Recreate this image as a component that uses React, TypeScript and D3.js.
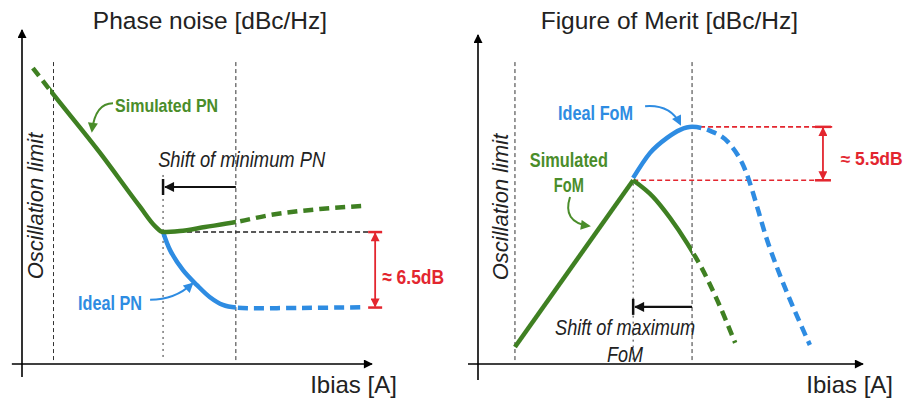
import React from 'react';
import * as d3 from 'd3';

// Conceptual units: Ibias on x (0-100), level on y (0-100)

// Phase noise panel
const pnSimulated = [[3.1, 88.6], [8, 82], [22.3, 63.2], [33.7, 47.1], [38, 41.3], [40.3, 39.5], [45.1, 39.8], [52.3, 41], [61.1, 42.5], [70.9, 44.6], [85.1, 46.4], [97.4, 47.3]];
const pnIdeal = [[40.3, 39.5], [42.3, 34.1], [46, 28.1], [50, 23.6], [53.7, 20], [57.4, 17.7], [61.1, 16.9], [80, 16.8], [97.4, 17]];
const pnSolidRange = [8, 61.1]; // outside this range the curves are dashed
const pnGuides = [9, 40.3, 61.1];
const pnGap = [39.5, 16.9]; // ≈ 6.5dB

// Figure of merit panel
const fomSimRise = [[9.6, 5.1], [40.3, 55]];
const fomSimFall = [[40.3, 55], [45.5, 50], [49.9, 43.7], [54.3, 36.2], [58.4, 28.1], [62.1, 19.2], [66.8, 6.3]];
const fomIdeal = [[40.3, 55.7], [44.7, 63.2], [49.1, 67.7], [52.5, 70.1], [55.6, 71], [60.3, 69.8], [64.9, 66.5], [68.6, 60.2], [75.8, 34.7], [86.2, 5.7]];
const fomSolidEnd = 55.6;
const fomGuides = [9.6, 40.3, 55.6];
const fomGap = [71, 55]; // ≈ 5.5dB

const GREEN = '#3f8022';
const GREEN_TXT = '#4a8d2a';
const BLUE = '#2e8ce2';
const RED = '#e3262f';
const SANS = "'Liberation Sans', Arial, sans-serif";

// condensed label: the source uses a narrow face, so squeeze to the measured width
const Narrow = ({ x, y, w, anchor = 'start', size, bold = false, italic = false, fill = '#222', children }: any) => (
  <text x={x} y={y} textAnchor={anchor} fontFamily={SANS} fontSize={size}
    fontWeight={bold ? 'bold' : 'normal'} fontStyle={italic ? 'italic' : 'normal'} fill={fill}
    textLength={w} lengthAdjust="spacingAndGlyphs">{children}</text>
);

export default function App() {
  const y = d3.scaleLinear().domain([0, 100]).range([364, 30]);
  const xL = d3.scaleLinear().domain([0, 100]).range([22, 372]);
  const xR = d3.scaleLinear().domain([0, 100]).range([478, 863]);

  const lineL = d3.line<number[]>().x(d => xL(d[0])).y(d => y(d[1])).curve(d3.curveMonotoneX);
  const lineLSmooth = d3.line<number[]>().x(d => xL(d[0])).y(d => y(d[1])).curve(d3.curveCatmullRom.alpha(0.5));
  const lineR = d3.line<number[]>().x(d => xR(d[0])).y(d => y(d[1])).curve(d3.curveMonotoneX);
  const lineRLin = d3.line<number[]>().x(d => xR(d[0])).y(d => y(d[1]));

  const curveW = 4.5;
  const dash = '10 6';

  return (
    <svg width={907} height={409} style={{ position: 'absolute', left: 0, top: 0, background: '#fff' }}>
      <defs>
        <marker id="ax" viewBox="0 0 10 10" refX="9" refY="5" markerWidth="12" markerHeight="9" markerUnits="userSpaceOnUse" orient="auto">
          <path d="M0,0 L10,5 L0,10 z" fill="#000" />
        </marker>
        <marker id="blk" viewBox="0 0 10 10" refX="9" refY="5" markerWidth="12" markerHeight="10" markerUnits="userSpaceOnUse" orient="auto">
          <path d="M0,0 L10,5 L0,10 z" fill="#111" />
        </marker>
        <marker id="red" viewBox="0 0 10 10" refX="9" refY="5" markerWidth="11" markerHeight="9" markerUnits="userSpaceOnUse" orient="auto-start-reverse">
          <path d="M0,0 L10,5 L0,10 z" fill={RED} />
        </marker>
        <marker id="grn" viewBox="0 0 10 10" refX="8" refY="5" markerWidth="11" markerHeight="10" markerUnits="userSpaceOnUse" orient="auto">
          <path d="M0,0 L10,5 L0,10 z" fill={GREEN_TXT} />
        </marker>
        <marker id="blu" viewBox="0 0 10 10" refX="8" refY="5" markerWidth="11" markerHeight="10" markerUnits="userSpaceOnUse" orient="auto">
          <path d="M0,0 L10,5 L0,10 z" fill={BLUE} />
        </marker>
        <clipPath id="pnSolid">
          <rect x={xL(pnSolidRange[0])} y={0} width={xL(pnSolidRange[1]) - xL(pnSolidRange[0])} height={409} />
        </clipPath>
        <clipPath id="pnDashA">
          <rect x={0} y={0} width={xL(pnSolidRange[0])} height={409} />
        </clipPath>
        <clipPath id="pnDashB">
          <rect x={xL(pnSolidRange[1])} y={0} width={200} height={409} />
        </clipPath>
        <clipPath id="fomSolid">
          <rect x={455} y={0} width={xR(fomSolidEnd) - 455} height={409} />
        </clipPath>
        <clipPath id="fomDash">
          <rect x={xR(fomSolidEnd)} y={0} width={300} height={409} />
        </clipPath>
      </defs>

      {/* ---------- Phase noise ---------- */}
      <g>
        <text x={xL(53.7)} y={y(100.3)} textAnchor="middle" fontFamily={SANS} fontSize={24.5} fill="#222">Phase noise [dBc/Hz]</text>

        {pnGuides.map((g, i) => (
          <line key={i} x1={xL(g)} x2={xL(g)} y1={i === 1 ? y(56.6) : y(90.4)} y2={y(1)}
            stroke="#333" strokeWidth={1} strokeDasharray={i === 1 ? '2 4' : '4 3'} />
        ))}

        {/* axes */}
        <line x1={xL(0)} x2={xL(0)} y1={y(-3.9)} y2={y(100)} stroke="#000" strokeWidth={1.6} markerEnd="url(#ax)" />
        <line x1={xL(-2.9)} x2={xL(100)} y1={y(0)} y2={y(0)} stroke="#000" strokeWidth={1.6} markerEnd="url(#ax)" />
        <text x={xL(107.1)} y={y(-8.7)} textAnchor="end" fontFamily={SANS} fontSize={24} fill="#222">Ibias [A]</text>
        <text transform={`translate(${xL(6)},${y(47.3)}) rotate(-90)`} textAnchor="middle" fontFamily={SANS} fontStyle="italic" fontSize={22} fill="#222">Oscillation limit</text>

        {/* reference level */}
        <line x1={xL(40.3)} x2={xL(102.3)} y1={y(pnGap[0])} y2={y(pnGap[0])} stroke="#222" strokeWidth={1.5} strokeDasharray="5 3" />

        {/* curves */}
        <path d={lineLSmooth(pnIdeal) || ''} fill="none" stroke={BLUE} strokeWidth={curveW} clipPath="url(#pnSolid)" />
        <path d={lineLSmooth(pnIdeal) || ''} fill="none" stroke={BLUE} strokeWidth={curveW} strokeDasharray={dash} clipPath="url(#pnDashB)" />
        <path d={lineL(pnSimulated) || ''} fill="none" stroke={GREEN} strokeWidth={curveW} clipPath="url(#pnSolid)" />
        <path d={lineL(pnSimulated) || ''} fill="none" stroke={GREEN} strokeWidth={curveW} strokeDasharray={dash} clipPath="url(#pnDashA)" />
        <path d={lineL(pnSimulated) || ''} fill="none" stroke={GREEN} strokeWidth={curveW} strokeDasharray={dash} clipPath="url(#pnDashB)" />

        {/* ≈ 6.5dB */}
        <line x1={xL(100.9)} x2={xL(100.9)} y1={y(pnGap[0]) + 1} y2={y(pnGap[1]) - 1} stroke={RED} strokeWidth={1.8} markerStart="url(#red)" markerEnd="url(#red)" />
        <line x1={xL(100.9) - 7} x2={xL(100.9) + 7} y1={y(pnGap[0])} y2={y(pnGap[0])} stroke={RED} strokeWidth={2.5} />
        <line x1={xL(100.9) - 7} x2={xL(100.9) + 7} y1={y(pnGap[1])} y2={y(pnGap[1])} stroke={RED} strokeWidth={2.5} />
        <Narrow x={xL(102.9)} y={y(24)} w={62} size={21} bold fill={RED}>≈ 6.5dB</Narrow>

        {/* shift of minimum */}
        <Narrow x={xL(38.9)} y={y(59)} w={167} size={22} italic>Shift of minimum PN</Narrow>
        <line x1={xL(61.1)} x2={xL(40.3) + 2} y1={y(53)} y2={y(53)} stroke="#111" strokeWidth={2.2} markerEnd="url(#blk)" />
        <line x1={xL(40.3)} x2={xL(40.3)} y1={y(53) - 8} y2={y(53) + 8} stroke="#111" strokeWidth={2.5} />

        {/* labels */}
        <Narrow x={xL(26.6)} y={y(75.4)} w={103} size={19} bold fill={GREEN_TXT}>Simulated PN</Narrow>
        <path d={`M${xL(26)},${y(78.1)} Q${xL(20.9)},${y(78.1)} ${xL(20)},${y(69.8)}`} fill="none" stroke={GREEN_TXT} strokeWidth={2} markerEnd="url(#grn)" />
        <Narrow x={xL(16)} y={y(16.2)} w={64} size={19.5} bold fill={BLUE}>Ideal PN</Narrow>
        <path d={`M${xL(36.6)},${y(19.2)} Q${xL(43.7)},${y(19.2)} ${xL(48.6)},${y(24)}`} fill="none" stroke={BLUE} strokeWidth={2} markerEnd="url(#blu)" />
      </g>

      {/* ---------- Figure of merit ---------- */}
      <g>
        <text x={xR(49.7)} y={y(100.3)} textAnchor="middle" fontFamily={SANS} fontSize={24.5} fill="#222">Figure of Merit [dBc/Hz]</text>

        {fomGuides.map((g, i) => (
          <line key={i} x1={xR(g)} x2={xR(g)} y1={i === 1 ? y(54) : y(90.4)} y2={y(1)}
            stroke="#333" strokeWidth={1} strokeDasharray={i === 1 ? '2 4' : '4 3'} />
        ))}

        <line x1={xR(0)} x2={xR(0)} y1={y(-4.8)} y2={y(98.5)} stroke="#000" strokeWidth={1.6} markerEnd="url(#ax)" />
        <line x1={xR(-2.6)} x2={xR(100)} y1={y(0)} y2={y(0)} stroke="#000" strokeWidth={1.6} markerEnd="url(#ax)" />
        <text x={xR(107.8)} y={y(-8.7)} textAnchor="end" fontFamily={SANS} fontSize={24} fill="#222">Ibias [A]</text>
        <text transform={`translate(${xR(7.8)},${y(47)}) rotate(-90)`} textAnchor="middle" fontFamily={SANS} fontStyle="italic" fontSize={22} fill="#222">Oscillation limit</text>

        {/* reference levels */}
        <line x1={xR(55.6)} x2={xR(92)} y1={y(fomGap[0])} y2={y(fomGap[0])} stroke={RED} strokeWidth={1.6} strokeDasharray="5 3" />
        <line x1={xR(40.3)} x2={xR(92)} y1={y(fomGap[1])} y2={y(fomGap[1])} stroke={RED} strokeWidth={1.6} strokeDasharray="5 3" />

        {/* curves */}
        <path d={lineR(fomIdeal) || ''} fill="none" stroke={BLUE} strokeWidth={curveW} clipPath="url(#fomSolid)" />
        <path d={lineR(fomIdeal) || ''} fill="none" stroke={BLUE} strokeWidth={curveW} strokeDasharray={dash} clipPath="url(#fomDash)" />
        <path d={lineRLin(fomSimRise) || ''} fill="none" stroke={GREEN} strokeWidth={curveW} />
        <path d={lineR(fomSimFall) || ''} fill="none" stroke={GREEN} strokeWidth={curveW} clipPath="url(#fomSolid)" />
        <path d={lineR(fomSimFall) || ''} fill="none" stroke={GREEN} strokeWidth={curveW} strokeDasharray={dash} clipPath="url(#fomDash)" />

        {/* ≈ 5.5dB */}
        <line x1={xR(89.6)} x2={xR(89.6)} y1={y(fomGap[0]) + 1} y2={y(fomGap[1]) - 1} stroke={RED} strokeWidth={1.8} markerStart="url(#red)" markerEnd="url(#red)" />
        <line x1={xR(89.6) - 8} x2={xR(89.6) + 8} y1={y(fomGap[0])} y2={y(fomGap[0])} stroke={RED} strokeWidth={2.5} />
        <line x1={xR(89.6) - 8} x2={xR(89.6) + 8} y1={y(fomGap[1])} y2={y(fomGap[1])} stroke={RED} strokeWidth={2.5} />
        <Narrow x={xR(94.2)} y={y(59.6)} w={62} size={17.5} bold fill={RED}>≈ 5.5dB</Narrow>

        {/* shift of maximum */}
        <line x1={xR(55.6)} x2={xR(40.3) + 2} y1={y(17.1)} y2={y(17.1)} stroke="#111" strokeWidth={2.2} markerEnd="url(#blk)" />
        <line x1={xR(40.3)} x2={xR(40.3)} y1={y(17.1) - 8} y2={y(17.1) + 8} stroke="#111" strokeWidth={2.5} />
        <Narrow x={xR(38.2)} y={y(8.7)} w={140} anchor="middle" size={22} italic>Shift of maximum</Narrow>
        <Narrow x={xR(38.2)} y={y(0.6)} w={36} anchor="middle" size={22} italic>FoM</Narrow>

        {/* labels */}
        <Narrow x={xR(20.8)} y={y(73)} w={75} size={19.5} bold fill={BLUE}>Ideal FoM</Narrow>
        <path d={`M${xR(43.4)},${y(77.2)} Q${xR(49.9)},${y(77.8)} ${xR(52.5)},${y(71.9)}`} fill="none" stroke={BLUE} strokeWidth={2} markerEnd="url(#blu)" />
        <Narrow x={xR(23.6)} y={y(59)} w={78} anchor="middle" size={20} bold fill={GREEN_TXT}>Simulated</Narrow>
        <Narrow x={xR(23.6)} y={y(51.5)} w={30} anchor="middle" size={20} bold fill={GREEN_TXT}>FoM</Narrow>
        <path d={`M${xR(23.9)},${y(50)} Q${xR(21.8)},${y(42.5)} ${xR(28.8)},${y(41.3)}`} fill="none" stroke={GREEN_TXT} strokeWidth={2} markerEnd="url(#grn)" />
      </g>
    </svg>
  );
}
